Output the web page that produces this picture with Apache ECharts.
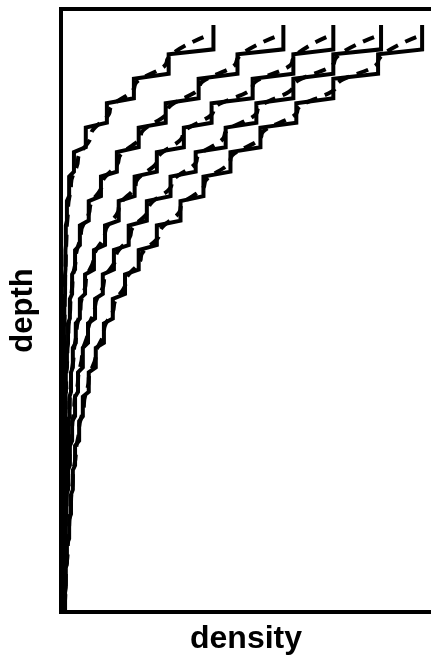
<!DOCTYPE html>
<html>
<head>
<meta charset="utf-8">
<title>density vs depth</title>
<script src="https://cdn.jsdelivr.net/npm/echarts@6/dist/echarts.min.js"></script>
<style>
  html, body { margin: 0; padding: 0; background: #fff; }
  #chart { width: 431px; height: 660px; }
</style>
</head>
<body>
<div id="chart"></div>
<script>
// Depth bin edges (bins of equal thickness, depth increasing downward)
const binEdges = [0, 1, 2, 3, 4, 5, 6, 7, 8, 9, 10, 11, 12, 13, 14, 15, 16, 17, 18, 19, 20, 21, 22, 23, 24];

// Binned density per depth bin, one array per profile (solid staircases)
const binned1 = [41.2, 29.1, 19.7, 12.4, 6.7, 3.5, 2.2, 1.6, 1.3, 1.2, 1.1, 0.9, 0.8, 0.8, 0.7, 0.7, 0.5, 0.5, 0.5, 0.4, 0.4, 0.4, 0.4, 0.4];
const binned2 = [60.1, 47.7, 37.2, 28.3, 21.0, 15.1, 10.8, 7.5, 5.1, 3.8, 3.0, 2.4, 1.9, 1.6, 1.3, 1.2, 1.1, 0.9, 0.8, 0.8, 0.7, 0.7, 0.5, 0.5];
const binned3 = [73.6, 62.8, 51.8, 40.7, 33.2, 25.9, 19.9, 15.6, 11.9, 8.9, 6.5, 5.1, 4.0, 3.2, 2.7, 2.3, 1.9, 1.6, 1.3, 1.2, 1.1, 0.9, 0.8, 0.7];
const binned4 = [86.5, 73.6, 62.8, 52.8, 44.5, 36.4, 29.6, 23.2, 18.3, 14.3, 11.3, 9.2, 7.3, 5.9, 4.6, 3.8, 3.0, 2.4, 1.9, 1.5, 1.2, 0.9, 0.8, 0.7];
const binned5 = [97.6, 85.7, 73.6, 63.6, 53.9, 45.8, 38.5, 32.3, 25.9, 21.0, 17.3, 14.0, 11.6, 9.4, 7.5, 5.9, 4.9, 3.8, 3.2, 2.7, 2.2, 1.6, 1.3, 1.1];

// Smooth model density at each bin centre (dashed curves)
const model1 = [38.5, 28.6, 19.9, 13.2, 8.1, 4.6, 2.7, 1.9, 1.5, 1.3, 1.1, 1.0, 0.9, 0.8, 0.7, 0.6, 0.6, 0.5, 0.5, 0.5, 0.4, 0.4, 0.4, 0.4];
const model2 = [57.7, 47.4, 37.5, 28.8, 21.6, 15.6, 11.1, 7.8, 5.4, 4.0, 3.1, 2.5, 2.0, 1.7, 1.4, 1.2, 1.1, 0.9, 0.8, 0.7, 0.6, 0.6, 0.5, 0.5];
const model3 = [71.7, 62.5, 51.8, 41.2, 32.9, 26.1, 20.2, 15.6, 11.9, 8.9, 6.7, 5.3, 4.2, 3.4, 2.7, 2.3, 1.9, 1.6, 1.4, 1.2, 1.1, 0.9, 0.8, 0.7];
const model4 = [84.6, 73.9, 62.8, 53.1, 44.2, 36.7, 29.9, 23.7, 18.9, 14.8, 11.6, 9.2, 7.3, 5.7, 4.6, 3.6, 3.0, 2.3, 1.9, 1.5, 1.2, 0.9, 0.8, 0.7];
const model5 = [96.0, 85.7, 74.4, 63.9, 54.2, 45.8, 38.8, 32.3, 26.7, 21.6, 17.5, 14.3, 11.6, 9.4, 7.5, 6.2, 4.9, 4.0, 3.2, 2.7, 2.2, 1.8, 1.3, 1.1];

const binnedProfiles = [binned1, binned2, binned3, binned4, binned5];
const modelProfiles = [model1, model2, model3, model4, model5];

// Each tread of a staircase drops slightly as it moves to the next bin
const TREAD_DROP = 0.2;
const FONT = "'Liberation Sans', Arial, Helvetica, sans-serif";

function stairPoints(vals) {
  const pts = [];
  vals.forEach((v, k) => {
    pts.push([v, binEdges[k] + (k > 0 ? TREAD_DROP : 0)]);
    pts.push([v, binEdges[k + 1]]);
  });
  return pts;
}

function modelPoints(vals) {
  return vals.map((v, k) => [v, (binEdges[k] + binEdges[k + 1]) / 2]);
}

const series = [];
binnedProfiles.forEach((vals) => {
  series.push({
    type: 'line',
    data: stairPoints(vals),
    showSymbol: false,
    symbol: 'none',
    lineStyle: { color: '#000', width: 4, join: 'miter', cap: 'butt' },
    silent: true
  });
});
modelProfiles.forEach((vals) => {
  series.push({
    type: 'line',
    data: modelPoints(vals),
    showSymbol: false,
    symbol: 'none',
    smooth: 0.4,
    smoothMonotone: 'y',
    lineStyle: { color: '#000', width: 4, type: [12, 8], cap: 'butt' },
    silent: true
  });
});

const hidden = { show: false };
const chart = echarts.init(document.getElementById('chart'), null, { renderer: 'canvas' });
chart.setOption({
  animation: false,
  backgroundColor: '#fff',
  grid: { left: 60, right: 0, top: 9, bottom: 48, containLabel: false },
  xAxis: [
    {
      type: 'value', min: 0, max: 100, position: 'bottom',
      axisLine: { show: true, onZero: false, lineStyle: { color: '#000', width: 4, cap: 'square' } },
      axisTick: hidden, axisLabel: hidden, splitLine: hidden,
      name: 'density', nameLocation: 'middle', nameGap: 11,
      nameTextStyle: { color: '#000', fontSize: 32, fontWeight: 'bold', fontFamily: FONT, verticalAlign: 'top' }
    },
    {
      type: 'value', min: 0, max: 100, position: 'top',
      axisLine: { show: true, onZero: false, lineStyle: { color: '#000', width: 4, cap: 'square' } },
      axisTick: hidden, axisLabel: hidden, splitLine: hidden
    }
  ],
  yAxis: {
    type: 'value', min: -0.65, max: 24, inverse: true,
    axisLine: { show: true, onZero: false, lineStyle: { color: '#000', width: 4, cap: 'square' } },
    axisTick: hidden, axisLabel: hidden, splitLine: hidden,
    name: 'depth', nameLocation: 'middle', nameGap: 22, nameRotate: 90,
    nameTextStyle: { color: '#000', fontSize: 31, fontWeight: 'bold', fontFamily: FONT }
  },
  series: series
});
</script>
</body>
</html>
